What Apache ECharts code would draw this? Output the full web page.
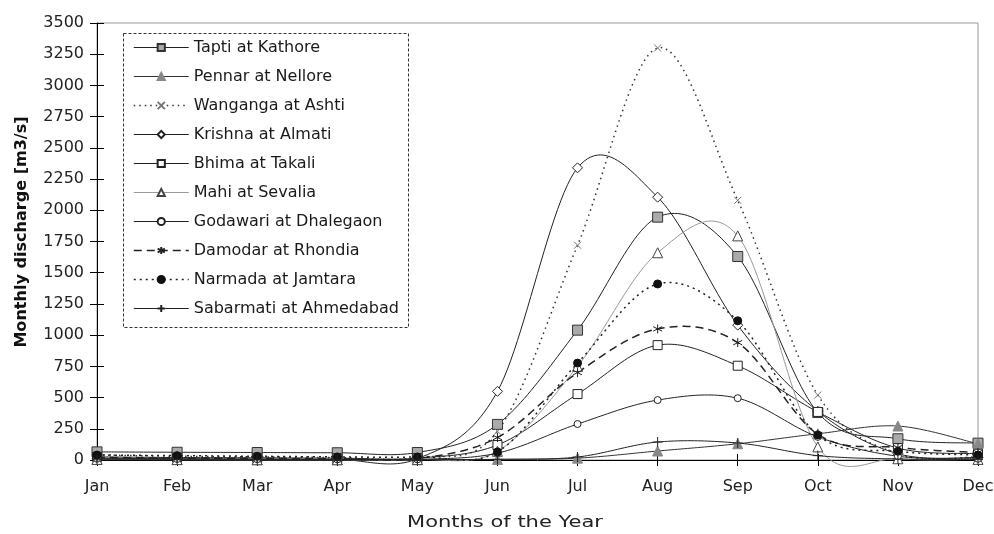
<!DOCTYPE html>
<html>
<head>
<meta charset="utf-8">
<script src="https://cdn.jsdelivr.net/npm/echarts@6/dist/echarts.min.js"></script>
<style>html,body{margin:0;padding:0;background:#fff}#c{width:994px;height:534px}</style>
</head>
<body>
<div id="c"></div>
<script>
const months = ["Jan","Feb","Mar","Apr","May","Jun","Jul","Aug","Sep","Oct","Nov","Dec"];
const yTicks = [0,250,500,750,1000,1250,1500,1750,2000,2250,2500,2750,3000,3250,3500];

const tapti     = [65, 62, 60, 58, 60, 285, 1040, 1945, 1630, 380, 170, 135];
const pennar    = [5, 4, 3, 3, 3, 5, 15, 72, 130, 210, 272, 130];
const wanganga  = [40, 30, 25, 20, 20, 230, 1720, 3300, 2080, 520, 50, 25];
const krishna   = [15, 10, 8, 5, 10, 550, 2340, 2105, 1080, 390, 50, 20];
const bhima     = [25, 20, 18, 15, 15, 120, 528, 920, 755, 385, 95, 50];
const mahi      = [5, 3, 2, 2, 3, 70, 750, 1660, 1795, 105, 10, 5];
const godawari  = [10, 8, 6, 5, 5, 55, 288, 480, 495, 185, 30, 10];
const damodar   = [20, 15, 12, 10, 12, 180, 700, 1050, 940, 205, 100, 60];
const narmada   = [40, 35, 30, 25, 25, 65, 776, 1410, 1115, 200, 70, 40];
const sabarmati = [2, 2, 2, 2, 2, 5, 24, 144, 136, 35, 8, 3];

const names = ["Tapti at Kathore","Pennar at Nellore","Wanganga at Ashti","Krishna at Almati","Bhima at Takali","Mahi at Sevalia","Godawari at Dhalegaon","Damodar at Rhondia","Narmada at Jamtara","Sabarmati at Ahmedabad"];
const values = [tapti, pennar, wanganga, krishna, bhima, mahi, godawari, damodar, narmada, sabarmati];

const FONT = "DejaVu Sans, Verdana, sans-serif";
const xPath = 'path://M0,0L10,10M10,0L0,10';
const starPath = 'path://M5,0L5,10M0,2.5L10,7.5M10,2.5L0,7.5';
const plusPath = 'path://M5,0L5,10M0,5L10,5';

// per-series styling
const styles = [
  {symbol: 'rect', size: 10, line: {color: '#222', width: 1}, item: {color: '#aaa', borderColor: '#333', borderWidth: 1}},
  {symbol: 'triangle', size: 10, line: {color: '#333', width: 1}, item: {color: '#888', borderColor: '#888', borderWidth: 1}},
  {symbol: xPath, size: 7, line: {color: '#333', width: 1.5, type: [1.5, 4]}, item: {color: 'none', borderColor: '#777', borderWidth: 1}},
  {symbol: 'diamond', size: 10, line: {color: '#222', width: 1}, item: {color: '#fff', borderColor: '#222', borderWidth: 1}},
  {symbol: 'rect', size: 9, line: {color: '#222', width: 1}, item: {color: '#fff', borderColor: '#222', borderWidth: 1}},
  {symbol: 'triangle', size: 10, line: {color: '#999', width: 1}, item: {color: '#fff', borderColor: '#444', borderWidth: 1}},
  {symbol: 'circle', size: 7, line: {color: '#222', width: 1}, item: {color: '#fff', borderColor: '#222', borderWidth: 1}},
  {symbol: starPath, size: 9, line: {color: '#222', width: 1.5, type: [8, 5]}, item: {color: 'none', borderColor: '#222', borderWidth: 1}},
  {symbol: 'circle', size: 8, line: {color: '#222', width: 1.5, type: [2, 4]}, item: {color: '#111', borderColor: '#111', borderWidth: 1}},
  {symbol: plusPath, size: 10, line: {color: '#222', width: 1}, item: {color: 'none', borderColor: '#222', borderWidth: 1}}
];

// Excel-like smoothed curve (Catmull-Rom -> Bezier) through points placed by the axes
function smoothCurve(arr, st) {
  return function (params, api) {
    const pts = arr.map((v, i) => api.coord([i, v]));
    const out = [];
    const n = pts.length;
    for (let i = 0; i < n - 1; i++) {
      const p0 = pts[Math.max(i - 1, 0)], p1 = pts[i], p2 = pts[i + 1], p3 = pts[Math.min(i + 2, n - 1)];
      const c1 = [p1[0] + (p2[0] - p0[0]) / 6, p1[1] + (p2[1] - p0[1]) / 6];
      const c2 = [p2[0] - (p3[0] - p1[0]) / 6, p2[1] - (p3[1] - p1[1]) / 6];
      const steps = 24;
      for (let s = (i === 0 ? 0 : 1); s <= steps; s++) {
        const t = s / steps, u = 1 - t;
        out.push([
          u*u*u*p1[0] + 3*u*u*t*c1[0] + 3*u*t*t*c2[0] + t*t*t*p2[0],
          u*u*u*p1[1] + 3*u*u*t*c1[1] + 3*u*t*t*c2[1] + t*t*t*p2[1]
        ]);
      }
    }
    const dash = Array.isArray(st.line.type) ? st.line.type : null;
    return {
      type: 'polyline', silent: true,
      shape: {points: out},
      style: {fill: 'none', stroke: st.line.color, lineWidth: st.line.width, lineDash: dash}
    };
  };
}

const series = [];
values.forEach((arr, k) => {
  series.push({
    name: names[k] + ' curve', type: 'custom', coordinateSystem: 'cartesian2d',
    xAxisIndex: 0, yAxisIndex: 0, z: 2, silent: true,
    data: [[0, arr[0]]],
    renderItem: smoothCurve(arr, styles[k])
  });
});
values.forEach((arr, k) => {
  const st = styles[k];
  series.push({
    name: names[k], type: 'line', data: arr, z: 3,
    symbol: st.symbol, symbolSize: st.size, showAllSymbol: true,
    lineStyle: Object.assign({}, st.line, {width: 0}),
    itemStyle: st.item,
    emphasis: {disabled: true}, silent: true
  });
});

const legendData = names.map((nm, k) => ({
  name: nm,
  lineStyle: {width: styles[k].line.width, opacity: 1}
}));

const chart = echarts.init(document.getElementById('c'), null, {renderer: 'canvas'});
chart.setOption({
  animation: false,
  backgroundColor: '#fff',
  textStyle: {fontFamily: FONT},
  grid: {left: 97, right: 16, top: 23, bottom: 74, outerBoundsMode: 'none', containLabel: false,
         show: true, borderColor: '#999', borderWidth: 1, backgroundColor: 'transparent'},
  xAxis: [{
    type: 'category', data: months, boundaryGap: false,
    axisLine: {lineStyle: {color: '#000', width: 1}},
    axisTick: {show: true, alignWithLabel: true, length: 6, lineStyle: {color: '#000'}},
    axisLabel: {color: '#222', fontSize: 16, fontFamily: FONT, margin: 19},
    splitLine: {show: false}
  }, {
    type: 'category', data: months, boundaryGap: false, position: 'bottom',
    axisLine: {show: false},
    axisTick: {show: true, inside: true, length: 6, lineStyle: {color: '#000'}},
    axisLabel: {show: false}, splitLine: {show: false}
  }],
  yAxis: [{
    type: 'value', min: yTicks[0], max: yTicks[yTicks.length - 1], interval: yTicks[1] - yTicks[0],
    axisLine: {show: true, lineStyle: {color: '#000', width: 1}},
    axisTick: {show: true, length: 7, lineStyle: {color: '#000'}},
    axisLabel: {color: '#222', fontSize: 16, fontFamily: FONT, margin: 13, formatter: v => String(v)},
    splitLine: {show: false}
  }, {
    type: 'value', min: yTicks[0], max: yTicks[yTicks.length - 1], interval: yTicks[1] - yTicks[0], position: 'left',
    axisLine: {show: false},
    axisTick: {show: true, inside: true, length: 7, lineStyle: {color: '#000'}},
    axisLabel: {show: false}, splitLine: {show: false}
  }],
  legend: {
    orient: 'vertical', left: 133, top: 39.5, padding: 0,
    itemWidth: 55, itemHeight: 9, itemGap: 13,
    textStyle: {color: '#1a1a1a', fontSize: 16, fontFamily: FONT},
    selectedMode: false,
    data: legendData
  },
  graphic: [
    {type: 'rect', z: 0, shape: {x: 123.5, y: 33.5, width: 285, height: 294},
     style: {fill: '#fff', stroke: '#333', lineWidth: 1, lineDash: [3, 2]}},
    {type: 'text', x: 505, y: 523, scaleX: 1.4,
     style: {text: 'Months of the Year', font: '15px ' + FONT, fill: '#222', align: 'center', verticalAlign: 'middle'}},
    {type: 'text', x: 22, y: 232, rotation: Math.PI / 2, scaleX: 1.07,
     style: {text: 'Monthly discharge [m3/s]', font: 'bold 15px ' + FONT, fill: '#111', align: 'center', verticalAlign: 'middle'}}
  ],
  series: series
});
</script>
</body>
</html>
